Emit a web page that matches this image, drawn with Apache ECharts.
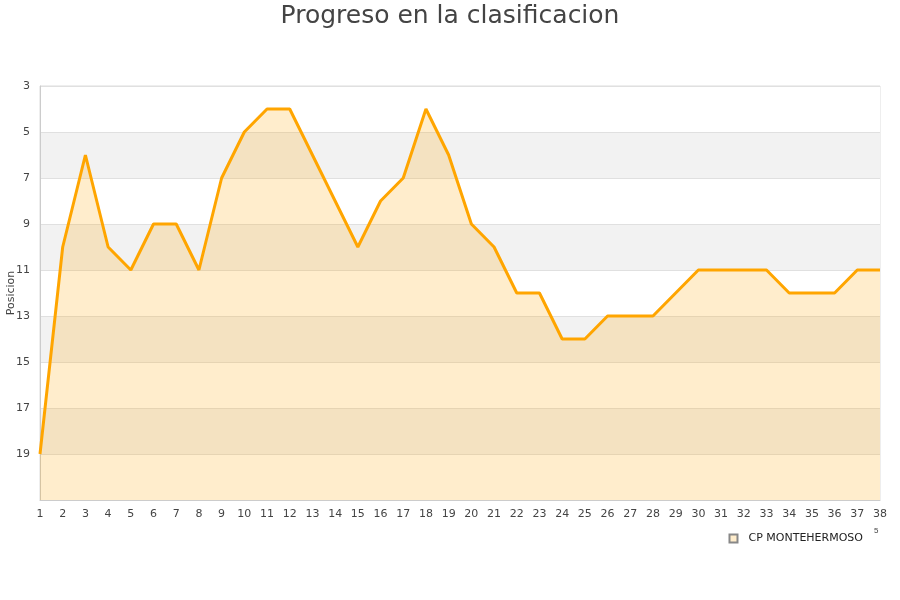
<!DOCTYPE html>
<html><head><meta charset="utf-8">
<script src="https://cdn.jsdelivr.net/npm/echarts@6/dist/echarts.min.js"></script>
<style>html,body{margin:0;padding:0;background:#fff}#c{width:900px;height:600px}</style>
</head><body><div id="c"></div>
<script>
const categories = ['1','2','3','4','5','6','7','8','9','10','11','12','13','14','15','16','17','18','19','20','21','22','23','24','25','26','27','28','29','30','31','32','33','34','35','36','37','38'];
const positions = [19,10,6,10,11,9,9,11,7,5,4,4,6,8,10,8,7,4,6,9,10,12,12,14,14,13,13,13,12,11,11,11,11,12,12,12,11,11];
const seriesName = 'CP MONTEHERMOSO';
const titleText = 'Progreso en la clasificacion';
const yName = 'Posicion';

const chart = echarts.init(document.getElementById('c'), null, {renderer:'canvas'});
chart.setOption({
  animation:false,
  backgroundColor:'#fff',
  textStyle:{fontFamily:'DejaVu Sans'},
  title:{text:titleText,left:'center',top:-1,textStyle:{fontSize:25,fontWeight:'normal',color:'#444',fontFamily:'DejaVu Sans'}},
  grid:{left:40,right:20,top:86,bottom:100,show:true,borderColor:'#ddd',borderWidth:1,backgroundColor:'transparent',
    containLabel:false,outerBoundsMode:'none'},
  legend:{data:[{name:seriesName,icon:'rect'}],right:32,top:528,itemWidth:8,itemHeight:8,itemGap:10,
    textStyle:{fontSize:11,color:'#222',padding:[0,0,0,6]}},
  xAxis:{type:'category',data:categories,boundaryGap:false,
    axisLine:{onZero:false,lineStyle:{color:'#ccc'}},axisTick:{show:false},
    axisLabel:{fontSize:11,color:'#444',margin:9,interval:0},splitLine:{show:false}},
  yAxis:{type:'value',inverse:true,min:3,max:21,interval:2,name:yName,nameLocation:'middle',nameGap:23,
    nameMoveOverlap:false,
    nameTextStyle:{fontSize:11,color:'#444'},
    axisLine:{show:true,lineStyle:{color:'#ccc'}},axisTick:{show:false},
    axisLabel:{fontSize:11,color:'#444',margin:10,formatter:v=>v===21?'':String(v)},
    splitLine:{show:true,lineStyle:{color:'#e0e0e0'}},
    splitArea:{show:true,areaStyle:{color:['#ffffff','#f2f2f2']}}},
  series:[{name:seriesName,type:'line',data:positions,symbol:'none',
    lineStyle:{color:'#ffa500',width:3},
    itemStyle:{color:'#ffedcc',borderColor:'#888',borderWidth:1},
    areaStyle:{color:'#ffa500',opacity:0.2,origin:'end'}}],
  graphic:[{type:'text',left:874,top:527,style:{text:'5',fontSize:8,fill:'#444'}}]
});
</script></body></html>
